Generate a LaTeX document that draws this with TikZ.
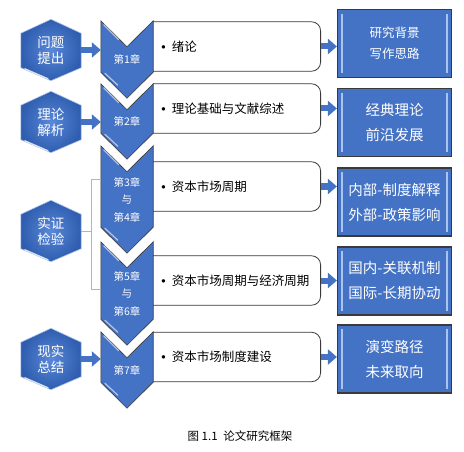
\documentclass[tikz,border=0pt]{standalone}
\usepackage{fontspec}
\setmainfont{Noto Sans CJK SC}
\newfontfamily\latinfont{Liberation Sans}
\usepackage{tikz}
\usetikzlibrary{calc,arrows.meta,positioning,backgrounds}

\definecolor{chapblue}{HTML}{4472C4}
\definecolor{hexlight}{HTML}{5A88D8}
\definecolor{hexdark}{HTML}{2F5DAF}
\definecolor{edgegray}{HTML}{3A3A3A}
\definecolor{bracketblue}{HTML}{9DB7E2}
\definecolor{bevelblue}{HTML}{A9C4EE}

\newcommand{\point}{{\latinfont •}\hspace{6pt}}

\tikzset{
    hexa/.style={minimum width=60pt, minimum height=61pt, inner sep=0pt, text=white, align=center, font=\fontsize{13.5}{16}\selectfont},
    chapter/.style={minimum width=52pt, inner sep=0pt, text=white, align=center, font=\fontsize{10.5}{17.5}\selectfont},
    content/.style={minimum height=49pt, text width=151pt, inner xsep=8pt, inner ysep=0pt, align=left, font=\fontsize{12.5}{15}\selectfont},
    result/.style={draw=edgegray, line width=1.2pt, fill=chapblue, minimum width=114pt, minimum height=68pt, text=white, align=center, font=\fontsize{14.5}{25}\selectfont},
    blockarrow/.style={draw=chapblue, line width=6pt, -{Triangle[length=9pt,width=15pt]}},
    chevron/.style={fill=chapblue, draw=edgegray, line width=0.6pt},
    hexshape/.style={inner color=hexlight, outer color=hexdark, draw=hexlight!50!white, line width=0.6pt},
    gloss/.style={white, opacity=0.6, line width=1.2pt, line cap=round},
    boxline/.style={draw=edgegray, line width=0.8pt},
    bracket/.style={bracketblue, line width=0.8pt},
    bevel/.style={bevelblue, line width=1.5pt}
}

\begin{document}
\begin{tikzpicture}[x=1pt, y=-1pt]
    % stages
    \node[hexa] (h1) at (51,50) {问题\\提出};
    \node[hexa] (h2) at (51,122) {理论\\解析};
    \node[hexa] (h3) at (51,231) {实证\\检验};
    \node[hexa] (h4) at (51,359) {现实\\总结};

    % chapters
    \node[chapter, minimum height=77pt] (c1) at (127,59.5) {第1章};
    \node[chapter, minimum height=75pt] (c2) at (127,121.5) {第2章};
    \node[chapter, minimum height=107pt] (c3) at (127,199.5) {第3章\\与\\第4章};
    \node[chapter, minimum height=103pt] (c4) at (127,293.5) {第5章\\与\\第6章};
    \node[chapter, minimum height=76pt] (c5) at (127,370) {第7章};

    \node[content, right=0pt of c1, yshift=13pt] (b1) {\point 绪论};
    \node[content, right=0pt of c2, yshift=13pt] (b2) {\point 理论基础与文献综述};
    \node[content, right=0pt of c3, yshift=13pt] (b3) {\point 资本市场周期};
    \node[content, right=0pt of c4, yshift=13pt] (b4) {\point 资本市场周期与经济周期};
    \node[content, right=0pt of c5, yshift=13pt] (b5) {\point 资本市场制度建设};

    % results
    \node[result, font=\fontsize{12.5}{21}\selectfont] (r1) at (394.5,43.5) {研究背景\\写作思路};
    \node[result] (r2) at (394.5,122.5) {经典理论\\前沿发展};
    \node[result] (r3) at (394.5,202) {内部-制度解释\\外部-政策影响};
    \node[result] (r4) at (394.5,281) {国内-关联机制\\国际-长期协动};
    \node[result] (r5) at (394.5,359) {演变路径\\未来取向};
    \foreach \i in {1,...,5} {
        \draw[bevel] ([xshift=5pt,yshift=-5pt]r\i.north west) -- ([xshift=5pt,yshift=5pt]r\i.south west);
        \draw[bevel] ([xshift=-5pt,yshift=-5pt]r\i.north east) -- ([xshift=-5pt,yshift=5pt]r\i.south east);
    }

    \node[font=\fontsize{11.5}{14}\selectfont] (cap) at (240,436) {图 1.1\enspace 论文研究框架};

    \foreach \h/\c in {h1/c1, h2/c2, h4/c5}
        \draw[blockarrow] (\h.east) -- (\h.east -| \c.west);
    \foreach \i in {1,...,5}
        \draw[blockarrow] (b\i.east) -- (b\i.east -| r\i.west);

    \draw[bracket] (h3.east) -- ++(10,0) coordinate (hb);
    \draw[bracket] ([yshift=20pt]c3.west) -| (hb) |- ([yshift=4.5pt]c4.west);

    \begin{scope}[on background layer]
        \fill[white, use as bounding box] (0,0) rectangle (464,452);
        \foreach \i in {1,...,5}
            \draw[boxline, rounded corners=9pt] (b\i.north west) -- (b\i.north east) -- (b\i.south east) -- (b\i.south west);
        \foreach \i in {1,...,5} {
            \draw[chevron] (c\i.north west) -- ([yshift=-26pt]c\i.north) -- (c\i.north east) -- ([yshift=26pt]c\i.south east) -- (c\i.south) -- ([yshift=26pt]c\i.south west) -- cycle;
            \draw[gloss] ([xshift=3pt,yshift=-4pt]c\i.north west) -- ++(15,15);
            \draw[gloss] ([xshift=4pt,yshift=25pt]c\i.south west) -- ++(13,12);
        }
        \foreach \i in {1,...,4} {
            \draw[hexshape] (h\i.north) -- ([yshift=-14pt]h\i.north east) -- ([yshift=13pt]h\i.south east) -- (h\i.south) -- ([yshift=13pt]h\i.south west) -- ([yshift=-14pt]h\i.north west) -- cycle;
            \draw[gloss, opacity=0.8] ([xshift=4pt,yshift=12pt]h\i.south west) -- ([xshift=-3pt,yshift=2pt]h\i.south);
        }
    \end{scope}
\end{tikzpicture}
\end{document}
